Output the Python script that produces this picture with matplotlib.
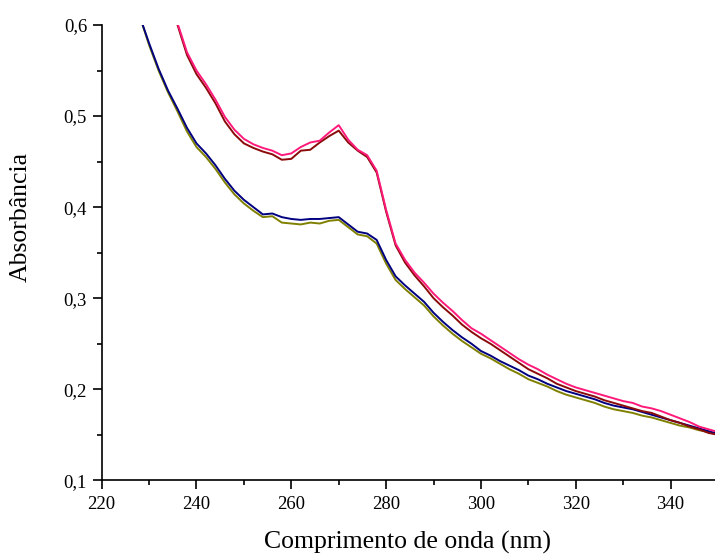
import numpy as np
import matplotlib
matplotlib.use("Agg")
from matplotlib import pyplot as plt
from matplotlib.ticker import MultipleLocator, FuncFormatter

# wavelength grids (nm)
wl_low = np.arange(228, 351, 2)
wl_high = np.arange(236, 351, 2)

navy = [0.610, 0.580, 0.552, 0.528, 0.508, 0.487, 0.470, 0.459, 0.446, 0.431,
        0.418, 0.408, 0.400, 0.392, 0.393, 0.389, 0.387, 0.386, 0.387, 0.387,
        0.388, 0.389, 0.381, 0.373, 0.371, 0.364, 0.342, 0.324, 0.314, 0.305,
        0.296, 0.284, 0.274, 0.265, 0.257, 0.250, 0.242, 0.237, 0.231, 0.226,
        0.221, 0.215, 0.211, 0.206, 0.202, 0.198, 0.195, 0.192, 0.189, 0.185,
        0.182, 0.180, 0.178, 0.175, 0.172, 0.169, 0.166, 0.163, 0.160, 0.157,
        0.154, 0.151]

olive = [0.610, 0.578, 0.550, 0.526, 0.505, 0.483, 0.466, 0.455, 0.442, 0.427,
         0.414, 0.404, 0.396, 0.389, 0.390, 0.383, 0.382, 0.381, 0.383, 0.382,
         0.385, 0.386, 0.378, 0.370, 0.368, 0.360, 0.338, 0.320, 0.310, 0.301,
         0.292, 0.280, 0.270, 0.261, 0.253, 0.246, 0.239, 0.234, 0.228, 0.222,
         0.217, 0.211, 0.207, 0.203, 0.198, 0.194, 0.191, 0.188, 0.185, 0.181,
         0.178, 0.176, 0.174, 0.171, 0.169, 0.166, 0.163, 0.160, 0.158, 0.155,
         0.153, 0.150]

pink = [0.602, 0.570, 0.550, 0.535, 0.518, 0.499, 0.485, 0.475, 0.469, 0.465,
        0.462, 0.457, 0.459, 0.466, 0.471, 0.473, 0.482, 0.490, 0.474, 0.463,
        0.457, 0.440, 0.397, 0.360, 0.342, 0.328, 0.317, 0.305, 0.295, 0.286,
        0.276, 0.267, 0.261, 0.254, 0.247, 0.240, 0.233, 0.227, 0.222, 0.216,
        0.211, 0.206, 0.202, 0.199, 0.196, 0.193, 0.190, 0.187, 0.185, 0.181,
        0.179, 0.176, 0.172, 0.168, 0.164, 0.159, 0.156, 0.153]

wine = [0.600, 0.567, 0.546, 0.531, 0.514, 0.494, 0.480, 0.470, 0.465, 0.461,
        0.458, 0.452, 0.453, 0.462, 0.463, 0.471, 0.478, 0.484, 0.471, 0.462,
        0.455, 0.438, 0.395, 0.358, 0.339, 0.325, 0.313, 0.300, 0.290, 0.281,
        0.271, 0.263, 0.256, 0.250, 0.243, 0.236, 0.229, 0.222, 0.217, 0.212,
        0.206, 0.202, 0.198, 0.195, 0.192, 0.188, 0.185, 0.182, 0.179, 0.176,
        0.174, 0.170, 0.166, 0.163, 0.159, 0.156, 0.152, 0.150]

plt.rcParams['font.family'] = ['Liberation Serif', 'DejaVu Serif']

fig = plt.figure(figsize=(7.15, 5.57), dpi=100)
ax = fig.add_axes([0.1422, 0.1377, 0.862, 0.8174])

ax.plot(wl_low, olive, color='#808000', lw=1.4)
ax.plot(wl_low, navy, color='#000080', lw=1.4)
ax.plot(wl_high, wine, color='#8B0A0A', lw=1.4)
ax.plot(wl_high, pink, color='#FF1A7A', lw=1.4)

ax.set_xlim(220, 350)
ax.set_ylim(0.1, 0.6)
ax.xaxis.set_major_locator(MultipleLocator(20))
ax.xaxis.set_minor_locator(MultipleLocator(10))
ax.yaxis.set_major_locator(MultipleLocator(0.1))
ax.yaxis.set_minor_locator(MultipleLocator(0.05))
ax.yaxis.set_major_formatter(FuncFormatter(lambda v, p: f"{v:.1f}".replace('.', ',')))

for s in ['top', 'right']:
    ax.spines[s].set_visible(False)
for s in ['left', 'bottom']:
    ax.spines[s].set_linewidth(1.2)
ax.tick_params(which='major', direction='out', length=6.5, width=1.2, labelsize=13.5)
ax.tick_params(axis='x', which='major', pad=5)
ax.tick_params(axis='y', which='major', pad=4)
ax.tick_params(which='minor', direction='out', length=3.5, width=1.2)

ax.set_xlabel('Comprimento de onda (nm)', fontsize=18.5)
ax.set_ylabel('Absorbância', fontsize=18.5)
ax.xaxis.set_label_coords(0.496, -0.112)
ax.yaxis.set_label_coords(-0.113, 0.578)

fig.savefig('out.png', dpi=100)
